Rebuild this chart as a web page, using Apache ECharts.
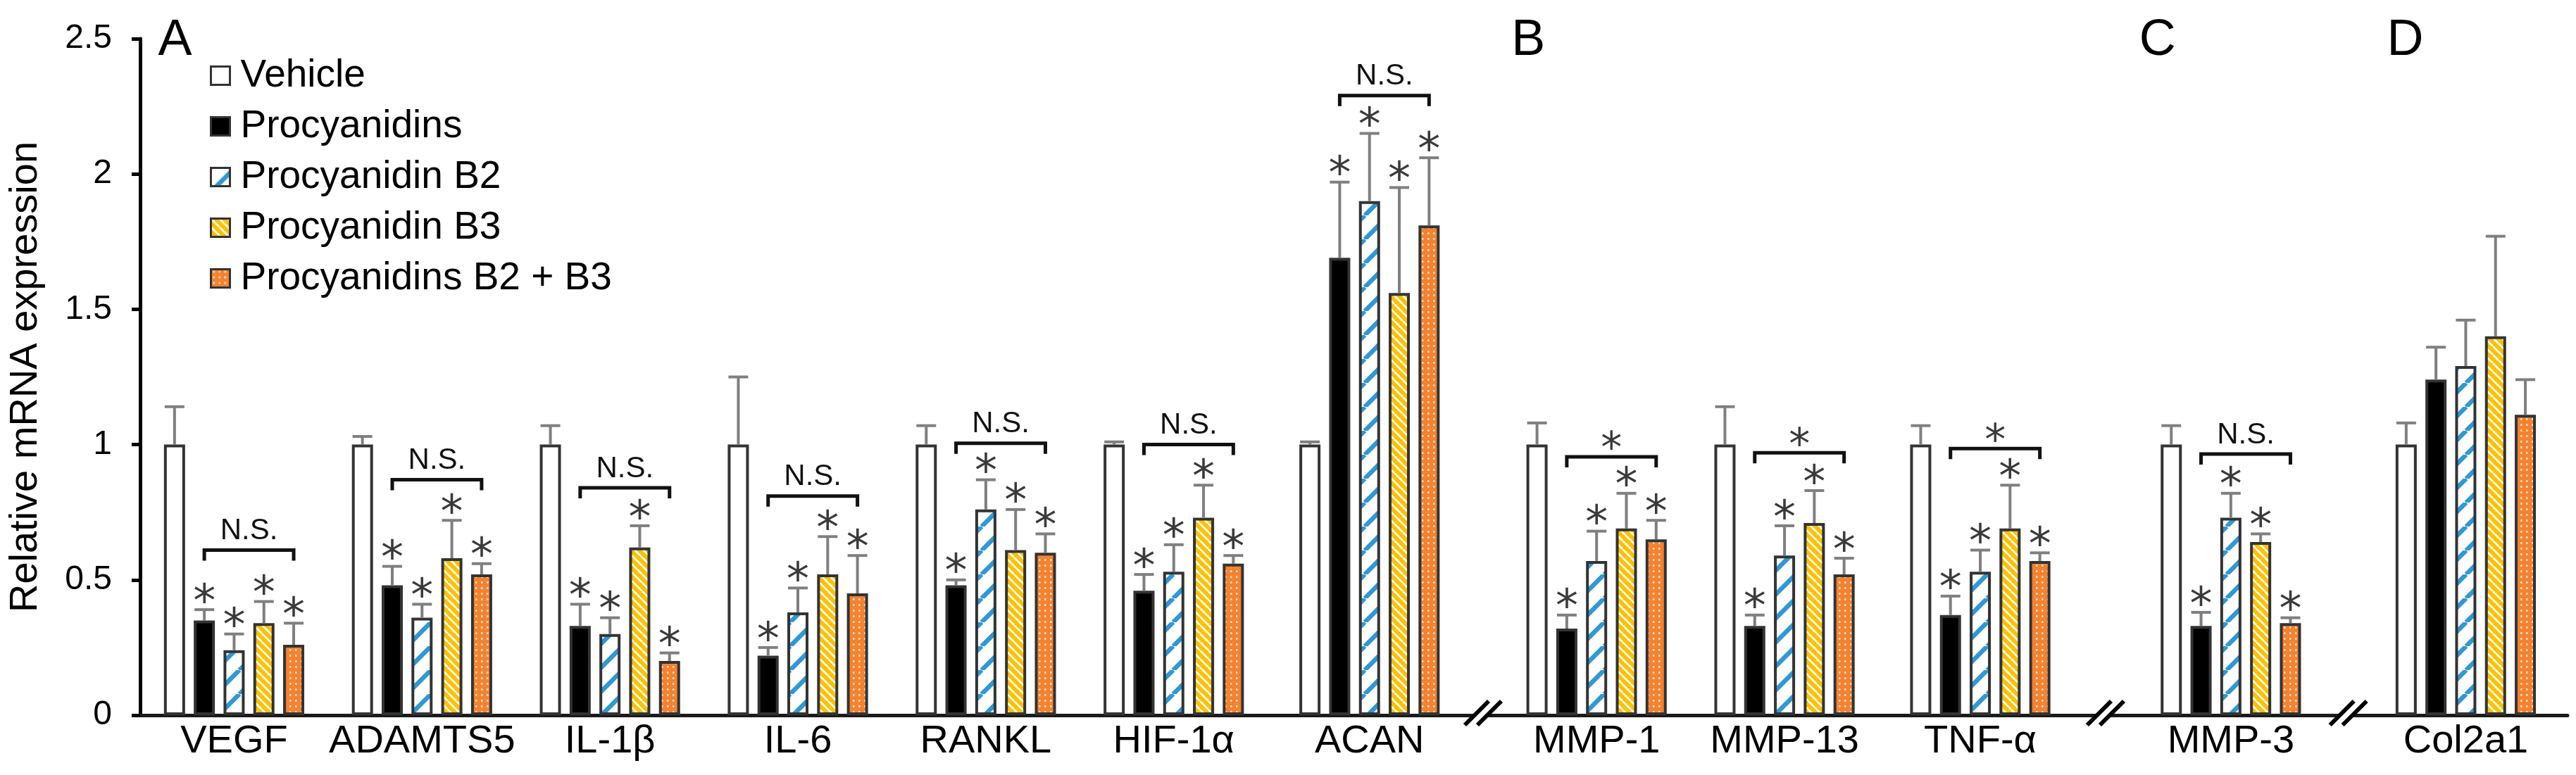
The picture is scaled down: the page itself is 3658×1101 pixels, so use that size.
<!DOCTYPE html>
<html><head><meta charset="utf-8">
<script src="https://cdn.jsdelivr.net/npm/echarts@6/dist/echarts.min.js"></script>
<style>html,body{margin:0;padding:0;background:#fff}#c{width:3658px;height:1101px}</style>
</head><body><div id="c"></div>
<script>
// ---------------- DATA ----------------
const categories = ['VEGF','ADAMTS5','IL-1β','IL-6','RANKL','HIF-1α','ACAN','MMP-1','MMP-13','TNF-α','MMP-3','Col2a1'];
const seriesNames = ['Vehicle','Procyanidins','Procyanidin B2','Procyanidin B3','Procyanidins B2 + B3'];
const vehicle      = [1.00,1.00,1.00,1.00,1.00,1.00,1.00,1.00,1.00,1.00,1.00,1.00];
const vehicleErr   = [0.14,0.03,0.07,0.25,0.07,0.01,0.01,0.08,0.14,0.07,0.07,0.08];
const procyanidins = [0.35,0.48,0.33,0.22,0.48,0.46,1.69,0.32,0.33,0.37,0.33,1.24];
const procErr      = [0.04,0.07,0.08,0.03,0.02,0.06,0.28,0.05,0.04,0.07,0.05,0.12];
const b2           = [0.24,0.36,0.30,0.38,0.76,0.53,1.90,0.57,0.59,0.53,0.73,1.29];
const b2Err        = [0.06,0.05,0.06,0.09,0.11,0.10,0.25,0.11,0.11,0.08,0.09,0.17];
const b3           = [0.34,0.58,0.62,0.52,0.61,0.73,1.56,0.69,0.71,0.69,0.64,1.40];
const b3Err        = [0.08,0.14,0.08,0.14,0.15,0.12,0.39,0.13,0.12,0.16,0.03,0.37];
const b2b3         = [0.26,0.52,0.20,0.45,0.60,0.56,1.81,0.65,0.52,0.57,0.34,1.11];
const b2b3Err      = [0.08,0.04,0.03,0.14,0.07,0.03,0.25,0.07,0.06,0.03,0.02,0.13];
const starred      = [1,1,1,1,1,1,1,1,1,1,1,0];
const bracketLabel = ['N.S.','N.S.','N.S.','N.S.','N.S.','N.S.','N.S.','*','*','*','N.S.',null];
const bracketLevel = [0.61,0.87,0.84,0.81,1.005,1.0,2.29,0.955,0.97,0.985,0.965,null];
const yTickLabels  = ['0','0.5','1','1.5','2','2.5'];
const panelLetters = ['A','B','C','D'];

// ---------------- LAYOUT ----------------
const groupSlot = [12,36,60,84,108,132,157,186,210,235,267,297];
const slotCount = 311;
const breakAfterGroup = [6, 9, 10];
const panelFirstGroup = [0, 7, 10, 11];
const panelLetterOffset = [-108, -121, -130, -112];
const BAR_W = 30, BAR_GAP = 0.41, PITCH = BAR_W * (1 + BAR_GAP);
const FONT = 'Liberation Sans, Arial, sans-serif';

const means = [vehicle, procyanidins, b2, b3, b2b3];
const errs  = [vehicleErr, procErr, b2Err, b3Err, b2b3Err];

function tile(size, bg, draw) {
  const c = document.createElement('canvas');
  c.width = size; c.height = size;
  const x = c.getContext('2d');
  x.fillStyle = bg; x.fillRect(0, 0, size, size);
  draw(x, size);
  return c;
}
const blueTile = tile(34, '#ffffff', (x, s) => {
  x.strokeStyle = '#2F98D5'; x.lineWidth = 6.5; x.beginPath();
  for (const k of [0, 1, 2]) { x.moveTo(k * s, 0); x.lineTo(k * s - s, s); }
  x.stroke();
});
const yellowTile = tile(12, '#FFC000', (x, s) => {
  x.strokeStyle = '#ffffff'; x.lineWidth = 2.8; x.beginPath();
  for (const k of [-1, 0, 1]) { x.moveTo(k * s, 0); x.lineTo(k * s + s, s); }
  x.stroke();
});
const orangeTile = tile(8, '#F5822F', (x, s) => {
  x.fillStyle = 'rgba(255,255,255,0.7)'; x.fillRect(3, 2, 2.5, 3);
});
const fills = [
  '#ffffff', '#000000',
  { image: blueTile, repeat: 'repeat' },
  { image: yellowTile, repeat: 'repeat' },
  { image: orangeTile, repeat: 'repeat' }
];

const slotLabels = Array.from({ length: slotCount }, () => '');
groupSlot.forEach((s, i) => { slotLabels[s] = categories[i]; });

const barSeries = seriesNames.map((name, si) => ({
  name, type: 'bar', barWidth: BAR_W, barGap: (BAR_GAP * 100) + '%',
  data: groupSlot.map((s, g) => [s, means[si][g]]),
  itemStyle: { color: fills[si], borderColor: '#333333', borderWidth: 4 },
  emphasis: { disabled: true }, z: 2
}));

const overlaySeries = {
  type: 'custom', z: 5, clip: false, silent: true,
  data: groupSlot.map(s => [s, 0]),
  renderItem(params, api) {
    const g = params.dataIndex, slot = groupSlot[g];
    const cx = api.coord([slot, 0])[0];
    const children = [];
    for (let si = 0; si < 5; si++) {
      const x = cx + (si - 2) * PITCH;
      const top = api.coord([slot, means[si][g]])[1];
      const capY = api.coord([slot, means[si][g] + errs[si][g]])[1];
      children.push({ type: 'line', shape: { x1: x, y1: top, x2: x, y2: capY }, style: { stroke: '#7f7f7f', lineWidth: 4 } });
      children.push({ type: 'line', shape: { x1: x - 14, y1: capY, x2: x + 14, y2: capY }, style: { stroke: '#7f7f7f', lineWidth: 4 } });
      if (si > 0 && starred[g]) {
        children.push({ type: 'text', x: x, y: capY - 8,
          style: { text: '*', fill: '#3a3a3a', fontSize: 64, fontFamily: 'DejaVu Sans', align: 'center', verticalAlign: 'middle' } });
      }
    }
    if (bracketLabel[g]) {
      const x1 = cx - PITCH, x2 = cx + 2 * PITCH;
      const yb = api.coord([slot, bracketLevel[g]])[1];
      children.push({ type: 'polyline', shape: { points: [[x1, yb + 15], [x1, yb], [x2, yb], [x2, yb + 15]] },
        style: { stroke: '#111111', lineWidth: 5, fill: null } });
      if (bracketLabel[g] === '*') {
        children.push({ type: 'text', x: (x1 + x2) / 2, y: yb - 8,
          style: { text: '*', fill: '#3a3a3a', fontSize: 60, fontFamily: 'DejaVu Sans', align: 'center', verticalAlign: 'middle' } });
      } else {
        children.push({ type: 'text', x: (x1 + x2) / 2, y: yb - 6,
          style: { text: bracketLabel[g], fill: '#111111', fontSize: 42, fontFamily: FONT, align: 'center', verticalAlign: 'bottom' } });
      }
    }
    return { type: 'group', children };
  }
};

const breakSeries = {
  type: 'custom', z: 6, clip: false, silent: true,
  data: breakAfterGroup.map(g => [groupSlot[g], 0]),
  renderItem(params, api) {
    const g = breakAfterGroup[params.dataIndex];
    const xa = api.coord([groupSlot[g], 0])[0], xb = api.coord([groupSlot[g + 1], 0])[0];
    const cx = (xa + xb) / 2, cy = api.coord([groupSlot[g], 0])[1] - 3;
    const h = 17, s = 9;
    return { type: 'group', children: [
      { type: 'polygon', shape: { points: [[cx - s - h, cy + h], [cx - s + h, cy - h], [cx + s + h, cy - h], [cx + s - h, cy + h]] }, style: { fill: '#ffffff' } },
      { type: 'line', shape: { x1: cx - s - h, y1: cy + h, x2: cx - s + h, y2: cy - h }, style: { stroke: '#000', lineWidth: 6 } },
      { type: 'line', shape: { x1: cx + s - h, y1: cy + h, x2: cx + s + h, y2: cy - h }, style: { stroke: '#000', lineWidth: 6 } }
    ] };
  }
};

const letterSeries = {
  type: 'custom', z: 6, clip: false, silent: true,
  data: panelFirstGroup.map(g => [groupSlot[g], 0]),
  renderItem(params, api) {
    const i = params.dataIndex;
    const x = api.coord([groupSlot[panelFirstGroup[i]], 0])[0] + panelLetterOffset[i];
    const y = api.coord([groupSlot[0], 2.5])[1] - 33;
    return { type: 'text', x, y, style: { text: panelLetters[i], fill: '#000', fontSize: 72, fontFamily: FONT, align: 'left', verticalAlign: 'top' } };
  }
};

const chart = echarts.init(document.getElementById('c'), null, { renderer: 'canvas' });
chart.setOption({
  animation: false,
  backgroundColor: '#ffffff',
  grid: { left: 199, right: 12, top: 55, bottom: 85, containLabel: false, outerBoundsMode: 'none' },
  legend: {
    data: seriesNames, orient: 'vertical', left: 293, top: 75, icon: 'rect',
    itemWidth: 27, itemHeight: 26, itemGap: 17, selectedMode: false,
    textStyle: { fontFamily: FONT, fontSize: 55, color: '#000', padding: [0, 0, 0, 10], lineHeight: 54 },
    itemStyle: { borderWidth: 3, borderColor: '#333333' }
  },
  xAxis: {
    type: 'category', data: slotLabels, boundaryGap: false,
    axisLine: { show: true, lineStyle: { color: '#1a1a1a', width: 5 } },
    axisTick: { show: false },
    axisLabel: { interval: 0, fontSize: 56, fontFamily: FONT, color: '#000', margin: 10, hideOverlap: false },
    splitLine: { show: false }
  },
  yAxis: {
    type: 'value', min: 0, max: 2.5, interval: 0.5,
    name: 'Relative mRNA expression', nameLocation: 'middle', nameGap: 162,
    nameTextStyle: { fontSize: 56, fontFamily: FONT, color: '#000', verticalAlign: 'middle' },
    axisLine: { show: true, lineStyle: { color: '#000', width: 5 } },
    axisTick: { show: true, inside: false, length: 12, lineStyle: { color: '#000', width: 5 } },
    axisLabel: { fontSize: 48, fontFamily: FONT, color: '#000', margin: 40,
      formatter: v => yTickLabels[Math.round(v / 0.5)] },
    splitLine: { show: false }
  },
  series: [...barSeries, overlaySeries, breakSeries, letterSeries]
});
</script></body></html>
